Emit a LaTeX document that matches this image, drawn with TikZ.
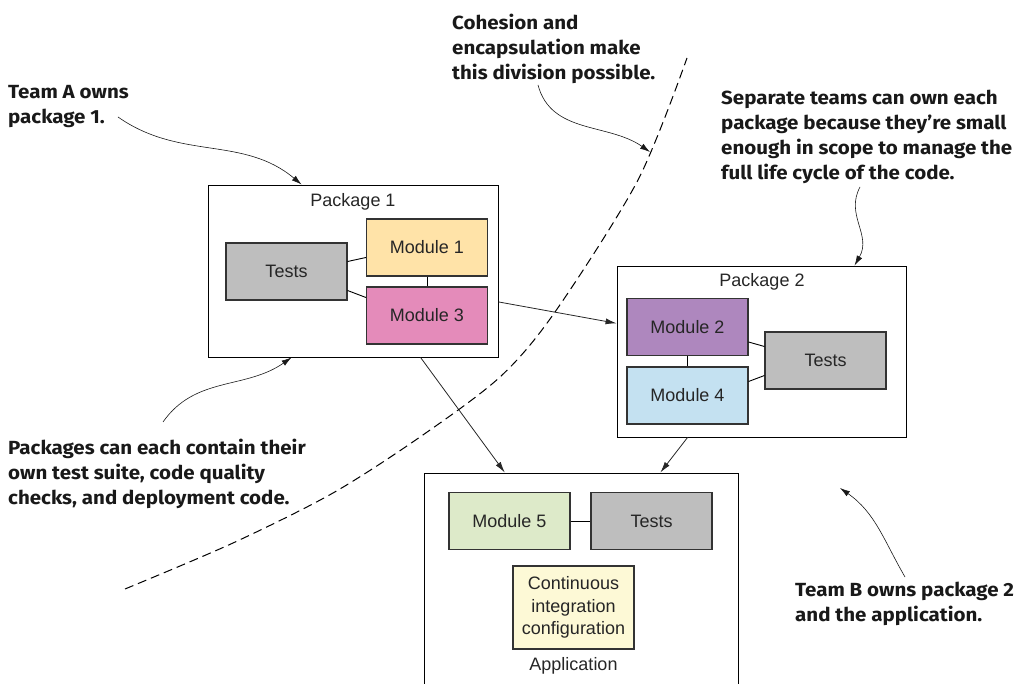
\documentclass[tikz,border=0pt]{standalone}
\usepackage{fontspec}
\setmainfont{Liberation Sans}
\newfontfamily\notefont{Fira Sans}[FakeStretch=1.08]
\usetikzlibrary{arrows.meta,positioning,calc}
\definecolor{testgray}{HTML}{BEBEBE}
\definecolor{modone}{HTML}{FFE3A8}
\definecolor{modthree}{HTML}{E48BBA}
\definecolor{modtwo}{HTML}{AE87BE}
\definecolor{modfour}{HTML}{C4E1F1}
\definecolor{modfive}{HTML}{DDEAC9}
\definecolor{ciyellow}{HTML}{FDF9D6}

\begin{document}
\begin{tikzpicture}[x=1pt, y=-1pt,
  pkg/.style={draw, line width=0.9pt, inner sep=0pt},
  pkglabel/.style={inner sep=0pt, text=black!85, font=\fontsize{18}{20}\selectfont},
  mod/.style={draw=black!80, line width=1.1pt, minimum width=121pt, minimum height=57pt, inner sep=0pt, text=black!85, align=center, font=\fontsize{18}{22.5}\selectfont},
  note/.style={anchor=north west, inner sep=0pt, align=left, text=black!90, font=\notefont\bfseries\fontsize{19}{25}\selectfont},
  conn/.style={-{Latex[length=11pt,width=6pt]}, line width=0.8pt, black!85},
  callout/.style={-{Latex[length=10pt,width=6pt]}, line width=0.6pt, black!90}]
  \useasboundingbox (0,0) rectangle (1023,684);

  \node[pkg, minimum width=290pt, minimum height=172pt] (p1) at (353,271) {};
  \node[pkg, minimum width=289pt, minimum height=171pt] (p2) at (761.5,351.5) {};
  \node[pkg, minimum width=314pt, minimum height=227pt] (app) at (581,586.5) {};
  \node[pkglabel] (p1lbl) at (353,202) {Package 1};
  \node[pkglabel] (p2lbl) at (762,282) {Package 2};

  \node[mod, fill=testgray] (t1) at (286.5,271.5) {Tests};
  \node[mod, fill=modone] (m1) at (427,247.5) {Module 1};
  \node[mod, fill=modthree] (m3) at (427,315.5) {Module 3};
  \node[mod, fill=modtwo] (m2) at (687.5,327) {Module 2};
  \node[mod, fill=modfour] (m4) at (687.5,395.5) {Module 4};
  \node[mod, fill=testgray] (t2) at (825.5,360.5) {Tests};
  \node[mod, fill=modfive] (m5) at (509.5,521) {Module 5};
  \node[mod, fill=testgray] (t3) at (651.5,521) {Tests};
  \node[mod, fill=ciyellow, minimum height=83pt] (ci) at (573.5,607.5) {Continuous\\integration\\configuration};
  \node[pkglabel, below=8pt of ci] (applbl) {Application};

  \draw[line width=0.9pt] ([yshift=10pt]t1.east) -- ([yshift=-10pt]m1.west);
  \draw[line width=0.9pt] ([yshift=-19pt]t1.east) -- ([yshift=18pt]m3.west);
  \draw[line width=0.9pt] (m1.south) -- (m3.north);
  \draw[line width=0.9pt] ([yshift=-15pt]m2.east) -- ([yshift=14pt]t2.west);
  \draw[line width=0.9pt] ([yshift=14pt]m4.east) -- ([yshift=-15pt]t2.west);
  \draw[line width=0.9pt] (m2.south) -- (m4.north);
  \draw[line width=0.9pt] (m5.east) -- (t3.west);

  \draw[conn] (p1.-12) -- (p2.169);
  \draw[conn] (p1.-52) -- ($(app.north west)!0.258!(app.north east)$);
  \draw[conn] ($(p2.south west)!0.245!(p2.south east)$) -- ($(app.north west)!0.752!(app.north east)$);

  \draw[line width=1pt, dash pattern=on 9pt off 5pt] plot[smooth] coordinates {(125,589) (233,543) (333,493) (420,437) (500,377) (555,312) (638,180) (687,58)};

  \node[note] (teama) at (8,85) {Team A owns\\package 1.};
  \node[note] (cohesion) at (452,14) {Cohesion and\\encapsulation make\\this division possible.};
  \node[note] (separate) at (721,90) {Separate teams can own each\\package because they’re small\\enough in scope to manage the\\full life cycle of the code.};
  \node[note] (packages) at (8,439) {Packages can each contain their\\own test suite, code quality\\checks, and deployment code.};
  \node[note] (teamb) at (795,582) {Team B owns package 2\\and the application.};

  \coordinate (teamaend) at (118,117);
  \coordinate (cohend) at (538,85);
  \coordinate (cohtip) at (650,152);
  \coordinate (sepend) at (860,187);
  \coordinate (pkgend) at (163,422);
  \coordinate (teambend) at (905,577);
  \coordinate (teambtip) at (840,488);

  \draw[callout] (teamaend) to[out=-35, in=140] ([xshift=94pt]p1.north west);
  \draw[callout] (cohend) to[out=-75, in=145] (cohtip);
  \draw[callout] (sepend) .. controls (845,215) and (872,235) .. ([xshift=238pt]p2.north west);
  \draw[callout] (pkgend) to[out=55, in=-145] ([xshift=84pt]p1.south west);
  \draw[callout] (teambend) to[out=120, in=-35] (teambtip);
\end{tikzpicture}
\end{document}
